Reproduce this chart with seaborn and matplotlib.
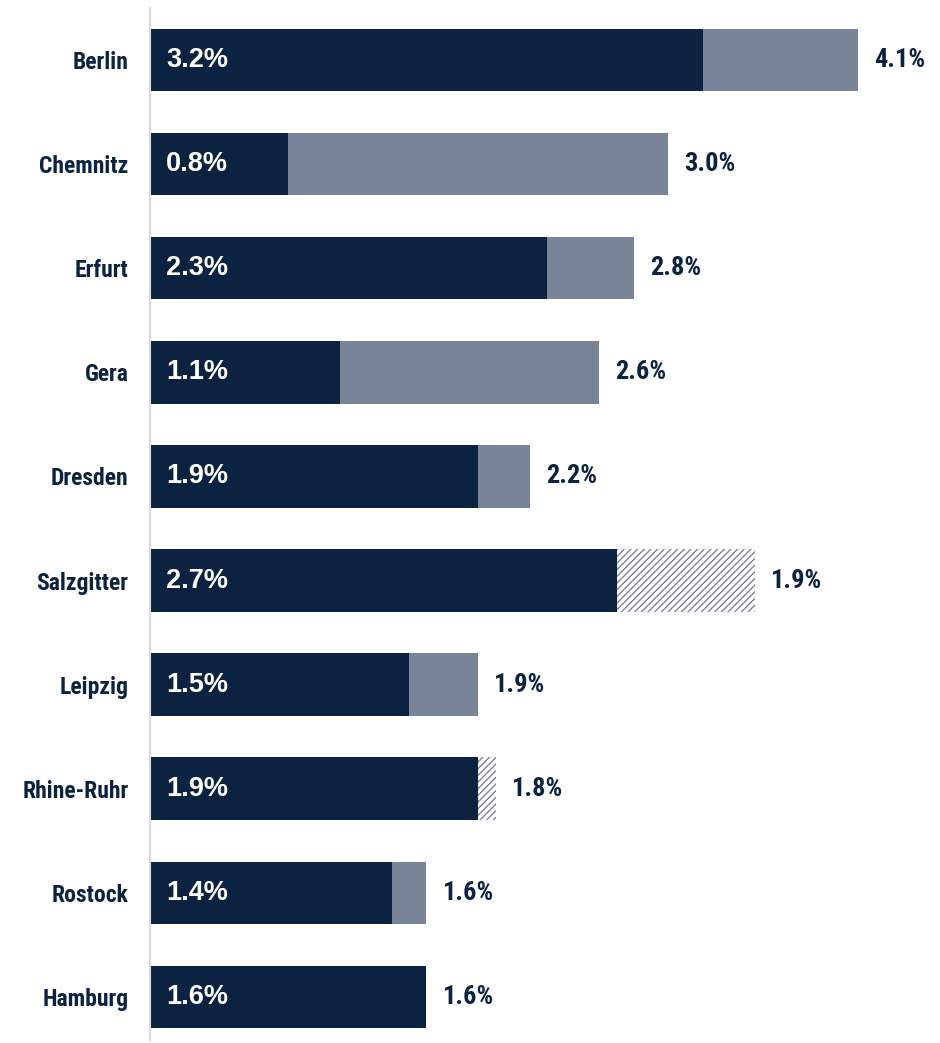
import matplotlib
matplotlib.use("Agg")
import matplotlib.pyplot as plt
import seaborn as sns
import pandas as pd
import numpy as np

cities = ["Berlin", "Chemnitz", "Erfurt", "Gera", "Dresden",
          "Salzgitter", "Leipzig", "Rhine-Ruhr", "Rostock", "Hamburg"]
base_values = [3.2, 0.8, 2.3, 1.1, 1.9, 2.7, 1.5, 1.9, 1.4, 1.6]
total_values = [4.1, 3.0, 2.8, 2.6, 2.2, 1.9, 1.9, 1.8, 1.6, 1.6]

NAVY = "#0B2341"
GREY = "#7A8499"

sns.set_theme(style="white")
plt.rcParams["font.family"] = ["Liberation Sans", "DejaVu Sans"]
NARROW = ["Roboto Condensed", "Liberation Sans", "DejaVu Sans"]
plt.rcParams["hatch.linewidth"] = 1.0

df = pd.DataFrame({"city": cities, "base": base_values, "total": total_values})
df["hatch"] = (df["base"] - df["total"]).clip(lower=0)
df["end"] = np.maximum(df["total"], df["base"] + df["hatch"])

fig = plt.figure(figsize=(9.4, 10.43), dpi=100)
ax = fig.add_axes([150 / 940, 1 - 1040 / 1043, 790 / 940, 1032 / 1043])

sns.barplot(data=df, x="total", y="city", color=GREY, width=0.6,
            saturation=1, ax=ax, orient="h", linewidth=0)
sns.barplot(data=df, x="base", y="city", color=NAVY, width=0.6,
            saturation=1, ax=ax, orient="h", linewidth=0)

ypos = np.arange(len(cities))
mask = df["hatch"] > 0
ax.barh(ypos[mask], df["hatch"][mask], left=df["base"][mask], height=0.6,
        facecolor="white", edgecolor=GREY, linewidth=0, hatch="/////")

for i, row in df.iterrows():
    ax.annotate(f"{row['base']:.1f}%", (0, i), xytext=(11.5, 0),
                textcoords="offset points", va="center", ha="left",
                color="white", fontsize=19.5, fontweight="bold")
    ax.annotate(f"{row['total']:.1f}%", (row["end"], i), xytext=(11.5, 0),
                textcoords="offset points", va="center", ha="left",
                color=NAVY, fontsize=19, fontweight="bold", family=NARROW)

ax.set_xlim(0, 790 / 172.8)
ax.set_ylim(9.414, -0.5)
ax.set_xlabel("")
ax.set_ylabel("")
ax.set_xticks([])
ax.tick_params(axis="y", length=0, pad=15.5)
for lab in ax.get_yticklabels():
    lab.set_fontfamily(NARROW)
    lab.set_fontweight("bold")
    lab.set_fontsize(17)
    lab.set_color(NAVY)
for s in ["top", "right", "bottom"]:
    ax.spines[s].set_visible(False)
ax.spines["left"].set_color("#D9D9D9")
ax.spines["left"].set_linewidth(1.5)

fig.savefig("out.png", dpi=100)
